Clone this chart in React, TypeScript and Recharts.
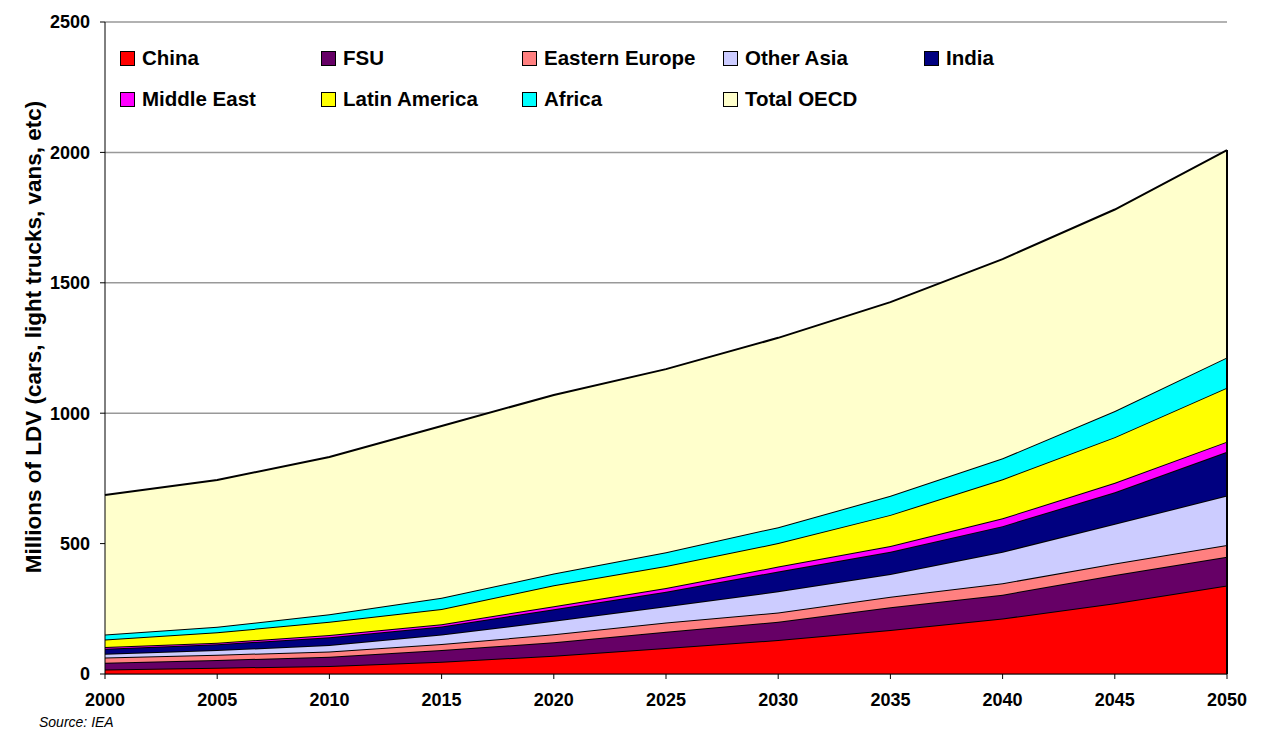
import React from 'react';
import { AreaChart, Area, XAxis, YAxis, CartesianGrid, ReferenceLine } from 'recharts';

const years = [2000, 2005, 2010, 2015, 2020, 2025, 2030, 2035, 2040, 2045, 2050];
const china = [17, 24, 31, 47, 70, 100, 130, 169, 213, 271, 339];
const fsu = [26, 30, 35, 45, 52, 62, 70, 87, 91, 109, 111];
const easternEurope = [20, 20, 20, 23, 30, 35, 36, 40, 44, 44, 45];
const otherAsia = [15, 18, 25, 36, 52, 63, 81, 87, 121, 152, 189];
const india = [19, 22, 30, 31, 44, 55, 76, 86, 98, 121, 168];
const middleEast = [7, 6, 9, 9, 12, 15, 19, 22, 30, 36, 39];
const latinAmerica = [28, 40, 50, 58, 80, 84, 90, 119, 150, 175, 207];
const africa = [19, 21, 29, 43, 45, 53, 61, 73, 80, 100, 116];
const totalOecd = [535, 563, 603, 659, 685, 702, 726, 743, 764, 773, 795];
const yTicks = [0, 500, 1000, 1500, 2000, 2500];

const FONT = '"Liberation Sans", Arial, sans-serif';

const series = [
  { key: 'china', name: 'China', color: '#ff0000', values: china },
  { key: 'fsu', name: 'FSU', color: '#660066', values: fsu },
  { key: 'ee', name: 'Eastern Europe', color: '#ff8080', values: easternEurope },
  { key: 'oasia', name: 'Other Asia', color: '#ccccff', values: otherAsia },
  { key: 'india', name: 'India', color: '#000080', values: india },
  { key: 'me', name: 'Middle East', color: '#ff00ff', values: middleEast },
  { key: 'latam', name: 'Latin America', color: '#ffff00', values: latinAmerica },
  { key: 'africa', name: 'Africa', color: '#00ffff', values: africa },
  { key: 'oecd', name: 'Total OECD', color: '#ffffcc', values: totalOecd },
];

const data = years.map((year, i) => {
  const row: Record<string, number> = { year };
  series.forEach((s) => (row[s.key] = s.values[i]));
  return row;
});

const lastTotal = series.reduce((sum, s) => sum + s.values[s.values.length - 1], 0);

export default function App() {
  return (
    <div style={{ position: 'absolute', left: 0, top: 0, width: 1264, height: 751, background: '#fff', fontFamily: FONT }}>
      <AreaChart width={1264} height={751} data={data} margin={{ top: 22, right: 37, left: 0, bottom: 0 }}>
        <CartesianGrid vertical={false} stroke="#999" strokeWidth={1.5} />
        <XAxis
          dataKey="year"
          type="number"
          domain={[2000, 2050]}
          ticks={years}
          height={77}
          stroke="#000"
          tickSize={5}
          tickMargin={14}
          tick={{ fill: '#000', fontSize: 18, fontWeight: 700, fontFamily: FONT }}
        />
        <YAxis
          domain={[0, 2500]}
          ticks={yTicks}
          width={105}
          stroke="#000"
          tickSize={5}
          tickMargin={10}
          tick={{ fill: '#000', fontSize: 18, fontWeight: 700, fontFamily: FONT }}
        />
        {series.map((s) => (
          <Area
            key={s.key}
            type="linear"
            dataKey={s.key}
            name={s.name}
            stackId="1"
            fill={s.color}
            fillOpacity={1}
            stroke="#000"
            strokeWidth={2}
            isAnimationActive={false}
          />
        ))}
        <ReferenceLine segment={[{ x: 2050, y: 0 }, { x: 2050, y: lastTotal }]} stroke="#000" strokeWidth={2} />
      </AreaChart>

      {/* legend inside the plot */}
      {series.map((s, i) => {
        const col = i < 5 ? i : i - 5;
        const row = i < 5 ? 0 : 1;
        return (
          <div
            key={s.key}
            style={{ position: 'absolute', left: 120 + col * 201, top: 48 + row * 41, display: 'flex', alignItems: 'center', height: 20 }}
          >
            <span style={{ width: 13, height: 13, background: s.color, border: '1px solid #000', display: 'inline-block' }} />
            <span style={{ marginLeft: 7, fontSize: 20.5, fontWeight: 700, color: '#000', whiteSpace: 'nowrap' }}>{s.name}</span>
          </div>
        );
      })}

      <div
        style={{
          position: 'absolute',
          left: 34,
          top: 337,
          transform: 'translate(-50%, -50%) rotate(-90deg)',
          fontSize: 22.5,
          fontWeight: 700,
          whiteSpace: 'nowrap',
          color: '#000',
        }}
      >
        Millions of LDV (cars, light trucks, vans, etc)
      </div>

      <div style={{ position: 'absolute', left: 39, top: 714, fontSize: 14, fontStyle: 'italic', color: '#000' }}>
        Source: IEA
      </div>
    </div>
  );
}
